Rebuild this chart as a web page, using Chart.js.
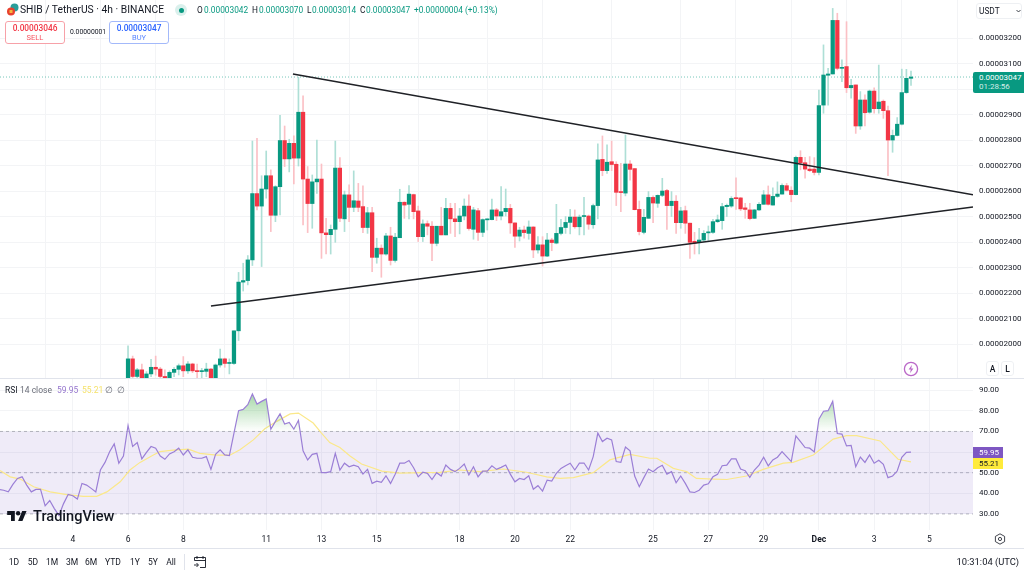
<!DOCTYPE html>
<html>
<head>
<meta charset="utf-8">
<title>SHIB / TetherUS</title>
<script src="https://cdn.jsdelivr.net/npm/chart.js"></script>
<style>
  html, body { margin: 0; padding: 0; background: #fff; }
  body { width: 1024px; height: 572px; position: relative; overflow: hidden; font-family: Roboto, sans-serif; color: #131722; }
  canvas { position: absolute; left: 0; }
  .t { position: absolute; white-space: nowrap; line-height: 1; transform: translateY(-50%); }
  .teal { color: #089981; }
  .box { position: absolute; box-sizing: border-box; }
</style>
</head>
<body>
<canvas id="priceChart" width="1024" height="378" style="top:0"></canvas>
<canvas id="rsiChart" width="1024" height="169" style="top:379px"></canvas>

<!-- pane separators -->
<div class="box" style="left:0;top:378px;width:1024px;height:1px;background:#e0e3eb"></div>
<div class="box" style="left:0;top:548px;width:1024px;height:1px;background:#e0e3eb"></div>

<!-- header -->
<svg class="box" style="left:6px;top:3px" width="13" height="13" viewBox="0 0 13 13">
  <circle cx="8.5" cy="4.5" r="4" fill="#2a9d9a"/>
  <circle cx="5" cy="8.5" r="4" fill="#e8412f"/>
  <rect x="3.5" y="7" width="3" height="3" fill="#f6b73c"/>
</svg>
<span class="t" style="left:20px;top:10px;font-size:10.3px">SHIB / TetherUS · 4h · BINANCE</span>
<div class="box" style="left:175px;top:4px;width:12px;height:12px;border-radius:50%;background:rgba(8,153,129,.15)"></div>
<div class="box" style="left:178.5px;top:7.5px;width:5px;height:5px;border-radius:50%;background:#089981"></div>
<span class="t" style="left:197px;top:10px;font-size:8.3px">O</span><span class="t teal" style="left:204px;top:10px;font-size:8.3px">0.00003042</span>
<span class="t" style="left:252px;top:10px;font-size:8.3px">H</span><span class="t teal" style="left:259px;top:10px;font-size:8.3px">0.00003070</span>
<span class="t" style="left:307px;top:10px;font-size:8.3px">L</span><span class="t teal" style="left:312px;top:10px;font-size:8.3px">0.00003014</span>
<span class="t" style="left:360px;top:10px;font-size:8.3px">C</span><span class="t teal" style="left:366px;top:10px;font-size:8.3px">0.00003047</span>
<span class="t teal" style="left:414px;top:10px;font-size:8.3px">+0.00000004 (+0.13%)</span>

<!-- sell / buy -->
<div class="box" style="left:5px;top:21px;width:60px;height:23px;border:1px solid #f7a1a8;border-radius:3px;background:#fff"></div>
<span class="t" style="left:5px;width:60px;text-align:center;top:28px;font-size:8.3px;font-weight:500;color:#f23645">0.00003046</span>
<span class="t" style="left:5px;width:60px;text-align:center;top:38px;font-size:7.5px;color:#f7525f">SELL</span>
<span class="t" style="left:70px;top:32px;font-size:6.8px">0.00000001</span>
<div class="box" style="left:109px;top:21px;width:60px;height:23px;border:1px solid #a3b9fa;border-radius:3px;background:#fff"></div>
<span class="t" style="left:109px;width:60px;text-align:center;top:28px;font-size:8.3px;font-weight:500;color:#2962ff">0.00003047</span>
<span class="t" style="left:109px;width:60px;text-align:center;top:38px;font-size:7.5px;color:#5b87ff">BUY</span>

<!-- currency selector -->
<div class="box" style="left:976px;top:3px;width:46px;height:16px;border:1px solid #eef0f3;border-radius:3px;background:#fff"></div>
<span class="t" style="left:979px;top:11px;font-size:8.3px">USDT</span>
<svg class="box" style="left:1016px;top:9px" width="5" height="4" viewBox="0 0 5 4"><path d="M.5 1l2 2 2-2" fill="none" stroke="#131722" stroke-width=".8"/></svg>

<!-- last price tag -->
<div class="box" style="left:973px;top:71.5px;width:51px;height:21px;background:#089981;border-radius:2px 0 0 2px"></div>
<span class="t" style="left:979px;top:77.5px;font-size:8px;color:#fff">0.00003047</span>
<span class="t" style="left:979px;top:87px;font-size:8px;color:#d4eee9">01:28:56</span>

<!-- price pane buttons -->
<svg class="box" style="left:903px;top:361px" width="16" height="16" viewBox="0 0 16 16">
  <circle cx="8" cy="8" r="6.6" fill="#fff" stroke="#ba68c8" stroke-width="1.3"/>
  <path d="M9 3.8L5.6 8.6h2.2L7 12.2l3.4-4.8H8.2z" fill="#ba68c8"/>
</svg>
<div class="box" style="left:986px;top:361px;width:13px;height:15px;border:1px solid #eef0f3;border-radius:3px;background:#fff"></div>
<div class="box" style="left:1001px;top:361px;width:13px;height:15px;border:1px solid #eef0f3;border-radius:3px;background:#fff"></div>
<span class="t" style="left:986px;top:368.5px;width:13px;text-align:center;font-size:8.5px;font-weight:500">A</span>
<span class="t" style="left:1001px;top:368.5px;width:13px;text-align:center;font-size:8.5px;font-weight:500">L</span>

<!-- RSI legend -->
<span class="t" style="left:5px;top:390px;font-size:8.5px">RSI</span>
<span class="t" style="left:20px;top:390px;font-size:8.5px;color:#6a6d78">14 close</span>
<span class="t" style="left:57px;top:390px;font-size:8.5px;color:#9575cd">59.95</span>
<span class="t" style="left:82px;top:390px;font-size:8.5px;color:#f5e26b">55.21</span>
<span class="t" style="left:105px;top:390px;font-size:8.5px;color:#6a6d78">∅</span>
<span class="t" style="left:117px;top:390px;font-size:8.5px;color:#6a6d78">∅</span>

<!-- RSI last value tags -->
<div class="box" style="left:973px;top:447px;width:30px;height:11px;background:#7e57c2"></div>
<span class="t" style="left:979px;top:452.5px;font-size:8px;color:#fff">59.95</span>
<div class="box" style="left:973px;top:458px;width:30px;height:11px;background:#ffeb3b"></div>
<span class="t" style="left:979px;top:463.5px;font-size:8px">55.21</span>

<!-- TradingView mark -->
<svg class="box" style="left:7px;top:510px" width="20" height="12" viewBox="0 0 36 22">
  <path d="M14 20H7V9H0V2h14v18zM28 20h-8l7.5-18h8L28 20z" fill="#131722"/><circle cx="20" cy="6" r="4" fill="#131722"/>
</svg>
<span class="t" style="left:33px;top:516px;font-size:14.6px;font-weight:500">TradingView</span>

<!-- settings hexagon -->
<svg class="box" style="left:994px;top:533px" width="12" height="12" viewBox="0 0 12 12">
  <path d="M6 .8l4.6 2.6v5.2L6 11.2 1.4 8.6V3.4z" fill="none" stroke="#131722" stroke-width=".8"/><circle cx="6" cy="6" r="1.6" fill="none" stroke="#131722" stroke-width=".8"/>
</svg>

<!-- bottom toolbar -->
<span class="t" style="left:14px;top:562px;font-size:8.5px;transform:translate(-50%,-50%)">1D</span>
<span class="t" style="left:33px;top:562px;font-size:8.5px;transform:translate(-50%,-50%)">5D</span>
<span class="t" style="left:52px;top:562px;font-size:8.5px;transform:translate(-50%,-50%)">1M</span>
<span class="t" style="left:72px;top:562px;font-size:8.5px;transform:translate(-50%,-50%)">3M</span>
<span class="t" style="left:91px;top:562px;font-size:8.5px;transform:translate(-50%,-50%)">6M</span>
<span class="t" style="left:113px;top:562px;font-size:8.5px;transform:translate(-50%,-50%)">YTD</span>
<span class="t" style="left:135px;top:562px;font-size:8.5px;transform:translate(-50%,-50%)">1Y</span>
<span class="t" style="left:153px;top:562px;font-size:8.5px;transform:translate(-50%,-50%)">5Y</span>
<span class="t" style="left:171px;top:562px;font-size:8.5px;transform:translate(-50%,-50%)">All</span>
<div class="box" style="left:184px;top:554px;width:1px;height:16px;background:#e0e3eb"></div>
<svg class="box" style="left:193px;top:555px" width="14" height="14" viewBox="0 0 14 14">
  <path d="M1.5 5.5V2.5h11v10H7M1.5 5.5h11M4 1v3M10 1v3M1 10h4M3.5 8l2 2-2 2" fill="none" stroke="#131722" stroke-width=".9"/>
</svg>
<span class="t" style="right:5px;top:562px;font-size:9.4px">10:31:04 (UTC)</span>

<script>
// prices are in units of 0.00000001
// candle 0 is the 4h bar that opens the 6th, earlier ones sit below the price pane
const opens = [
  1850,1942,1873,1899,1866,1883,1909,1902,1873,1866,
  1889,1901,1915,1895,1922,1895,1892,1893,1902,1866,
  1918,1942,1924,1924,2052,2243,2249,2330,2590,2541,
  2608,2660,2505,2617,2798,2726,2787,2729,2909,2647,
  2551,2636,2647,2436,2429,2450,2690,2491,2585,2536,
  2561,2539,2457,2515,2340,2376,2353,2424,2328,2417,
  2556,2548,2586,2522,2421,2472,2462,2395,2462,2428,
  2532,2491,2480,2502,2541,2450,2523,2438,2487,2488,
  2526,2502,2519,2532,2475,2423,2447,2434,2459,2369,
  2389,2345,2408,2396,2434,2457,2477,2498,2460,2500,
  2502,2468,2543,2724,2680,2715,2705,2596,2592,2706,
  2688,2528,2438,2493,2575,2552,2583,2602,2543,2560,
  2476,2523,2474,2403,2399,2408,2436,2438,2480,2484,
  2539,2541,2574,2573,2534,2526,2493,2526,2548,2585,
  2545,2579,2588,2621,2603,2586,2732,2711,2686,2686,
  2673,2937,3054,3059,3269,3081,3088,3005,3016,2855,
  2957,2909,2992,2923,2952,2915,2800,2818,2862,2986,
  3042
];
const highs = [
  1993,1953,1905,1922,1892,1940,1953,1909,1899,1895,
  1908,1922,1951,1931,1925,1922,1905,1925,1905,1922,
  1980,1945,1942,2052,2281,2317,2347,2796,2807,2660,
  2757,2683,2621,2897,2855,2803,2816,3046,2973,2696,
  2663,2800,2706,2493,2467,2796,2731,2600,2624,2679,
  2630,2620,2536,2536,2415,2389,2434,2458,2434,2607,
  2558,2621,2588,2541,2487,2483,2480,2462,2536,2571,
  2552,2552,2532,2569,2585,2536,2532,2491,2491,2568,
  2532,2617,2608,2548,2475,2458,2463,2483,2460,2421,
  2421,2434,2415,2548,2489,2500,2528,2526,2506,2575,
  2506,2549,2785,2816,2781,2796,2715,2709,2820,2719,
  2688,2561,2528,2598,2581,2585,2650,2607,2598,2582,
  2536,2541,2474,2438,2454,2445,2463,2489,2506,2552,
  2549,2578,2652,2575,2552,2552,2528,2555,2602,2620,
  2613,2636,2628,2630,2617,2737,2758,2732,2735,2731,
  2996,3173,3081,3316,3297,3114,3264,3038,3016,2990,
  2977,2996,3005,3094,2957,2933,2839,2888,3078,3077,
  3070
];
const lows = [
  1830,1860,1860,1850,1860,1872,1878,1866,1860,1860,
  1872,1879,1872,1885,1888,1866,1866,1872,1860,1860,
  1909,1909,1883,1920,2014,2208,2232,2308,2526,2304,
  2572,2441,2480,2506,2696,2675,2628,2698,2467,2437,
  2454,2591,2336,2353,2353,2399,2480,2441,2480,2519,
  2519,2437,2434,2284,2317,2262,2349,2310,2321,2417,
  2493,2491,2491,2402,2402,2428,2327,2385,2428,2428,
  2434,2421,2432,2487,2447,2411,2406,2421,2447,2487,
  2484,2487,2502,2434,2379,2404,2415,2411,2339,2356,
  2306,2343,2366,2393,2428,2434,2432,2454,2428,2428,
  2450,2454,2491,2660,2669,2680,2543,2519,2581,2643,
  2526,2428,2432,2493,2476,2536,2578,2450,2500,2434,
  2454,2434,2336,2353,2353,2402,2406,2434,2476,2450,
  2500,2536,2528,2523,2493,2487,2492,2523,2548,2545,
  2545,2575,2588,2600,2558,2585,2683,2650,2676,2663,
  2663,2905,2937,3059,3075,3029,2986,2964,2826,2842,
  2855,2905,2905,2905,2885,2660,2752,2816,2859,2983,
  3014
];
const closes = [
  1942,1873,1899,1866,1883,1909,1902,1873,1866,1889,
  1901,1915,1895,1922,1895,1892,1893,1902,1866,1918,
  1942,1924,1927,2052,2243,2249,2330,2590,2541,2608,
  2660,2505,2617,2798,2726,2787,2729,2909,2647,2551,
  2636,2647,2436,2429,2450,2690,2493,2585,2536,2562,
  2536,2457,2515,2340,2376,2353,2424,2328,2419,2556,
  2545,2588,2519,2421,2471,2462,2395,2462,2428,2532,
  2491,2480,2502,2541,2453,2526,2438,2488,2489,2526,
  2502,2519,2532,2475,2423,2447,2437,2459,2369,2389,
  2345,2408,2398,2434,2457,2477,2498,2460,2498,2502,
  2470,2543,2722,2680,2713,2704,2595,2594,2706,2685,
  2527,2441,2497,2575,2553,2583,2600,2543,2560,2476,
  2522,2474,2399,2396,2408,2434,2440,2480,2487,2539,
  2544,2571,2570,2530,2528,2492,2526,2548,2585,2548,
  2579,2588,2622,2603,2586,2732,2711,2686,2680,2673,
  2935,3055,3059,3269,3081,3085,3005,3014,2855,2957,
  2907,2992,2923,2949,2915,2800,2818,2862,2986,3042,
  3047
];

// rsi starts further left than the candles
const rsiFirstBar = -28;
const rsiValues = [
  41.9,41.5,40.7,44.3,47.2,48.0,44.0,40.7,41.9,41.9,33.9,36.5,32.6,29.3,35.0,39.4,38.8,37.2,44.8,44.0,
  42.4,40.7,51.3,55.0,60.2,64.0,54.6,58.1,72.9,62.7,64.6,56.7,59.9,62.7,61.9,58.1,56.5,59.1,60.2,61.9,
  58.6,61.1,57.5,57.0,57.0,57.8,51.6,58.9,61.1,58.6,58.3,69.2,80.1,80.7,83.0,88.2,83.3,84.6,85.8,71.1,
  74.9,78.6,73.6,74.4,71.1,75.4,60.6,56.2,58.9,59.4,50.0,50.0,50.5,59.4,51.3,
  54.6,52.9,53.7,52.9,49.3,51.6,44.8,45.9,45.3,48.5,44.8,49.2,54.6,54.6,55.9,52.4,48.0,50.2,49.7,46.7,
  50.0,48.4,53.7,51.6,50.5,52.1,54.2,48.9,52.9,48.0,50.8,50.8,53.3,51.6,52.6,53.7,49.3,45.6,47.2,46.7,
  48.5,42.0,43.7,41.1,46.4,45.9,49.7,52.1,53.4,54.6,51.3,54.6,54.7,51.3,57.8,69.2,65.1,66.7,65.9,55.4,
  55.0,62.4,60.6,48.4,43.2,47.6,51.8,50.5,52.4,53.6,49.3,50.5,45.1,48.4,
  44.8,40.7,40.4,41.5,44.0,44.6,48.0,49.2,53.4,53.7,56.7,56.7,51.8,51.0,47.7,51.3,53.7,57.5,53.3,56.2,
  57.5,60.2,57.8,55.4,67.9,65.1,62.2,61.9,60.1,76.0,79.8,80.1,84.6,69.0,68.7,63.0,63.2,52.9,57.6,55.0,
  58.6,54.6,56.0,54.1,47.6,48.4,50.8,57.5,59.9,59.95
];
const maBars = [
  -27.8,-25.6,-23.4,-20.5,-16.9,-13.3,-9.7,-6.8,-4.6,-1.7,0.4,2.6,5.5,6.9,9.8,13.1,15.6,19.2,22.1,24.3,
  27.2,29.7,32.3,35.2,37,40.2,42,43.8,46,48.2,50.7,55.1,59,64.1,67.7,72.1,76.4,81.5,86.5,90.9,
  93.8,96.7,101,104.6,109,113.3,114.8,118.4,119.8,121.3,123.4,127.1,130,134.3,137.9,142.3,144.4,148.8,153.1,156,
  158.2,163.3,167.2,170
];
const maValues = [
  51,48,46.9,43.2,40.7,39.4,38.5,38.5,40.7,45.6,51.3,55,58.6,60.2,60.9,61.4,59.4,58.5,58.5,61.1,
  65.9,71.3,74.9,78.5,78.9,74.1,69.2,64.6,62.2,58.1,54.2,50.8,49.8,50,50.2,51.3,50.5,51.8,50.2,48,
  47.2,47.6,50,56.2,58.9,57,57,52.1,51.3,50.5,47.2,46.9,46.7,48.4,51.6,54.6,55,58.6,66.3,68,
  68,65.4,56.5,55.21
];

// trendlines: [bar, price]
const upperTrend = [[35.8, 3059], [183.46, 2585]];
const lowerTrend = [[18, 2149], [183.46, 2537]];
const lastPrice = 3047;

const priceTicks = [2000,2100,2200,2300,2400,2500,2600,2700,2800,2900,3000,3100,3200];
const rsiTicks = [30,40,50,60,70,80,90];
const dayBars = [-12,0,12,30,42,54,72,84,96,114,126,138,150,162,174];
const dayLabels = ['4','6','8','11','13','15','18','20','22','25','27','29','Dec','3','5'];

const UP = '#089981';
const DOWN = '#f23645';
const UP_WICK = '#aedfd6';
const DOWN_WICK = '#fbc0c5';
const GRID = '#f3f4f6';
const FONT = 'Roboto';
const BAR_MIN = -27.8;
const BAR_MAX = 183.46;
const AXIS_WIDTH = 51;

function isUp(i) {
    return closes[i] >= opens[i];
}

function fixedTicks(values) {
    return scale => { scale.ticks = values.map(value => ({ value })); };
}

const bars = opens.map((o, i) => i);
const wickData = bars.map(i => ({ x: i, y: [lows[i], highs[i]] }));
const bodyData = bars.map(i => ({ x: i, y: [opens[i], closes[i]] }));
const toPoints = line => line.map(p => ({ x: p[0], y: p[1] }));

Chart.defaults.animation = false;
Chart.defaults.font.family = FONT;
Chart.defaults.plugins.legend.display = false;
Chart.defaults.plugins.tooltip.enabled = false;

function xAxis(showLabels, height) {
    return {
        type: 'linear',
        min: BAR_MIN,
        max: BAR_MAX,
        offset: false,
        afterBuildTicks: fixedTicks(dayBars),
        afterFit: s => { s.height = height; s.paddingLeft = 0; s.paddingRight = 0; },
        grid: { color: GRID, drawTicks: false },
        border: { display: false },
        ticks: {
            display: showLabels,
            autoSkip: false,
            maxRotation: 0,
            padding: 5,
            color: '#131722',
            font: ctx => ({ size: 8.5, family: FONT, weight: dayLabels[ctx.index] === 'Dec' ? 'bold' : 'normal' }),
            callback: (value, index) => dayLabels[index]
        }
    };
}

function yAxis(min, max, tickValues, format) {
    return {
        position: 'right',
        min,
        max,
        afterBuildTicks: fixedTicks(tickValues),
        // label overhang would otherwise shrink the pane
        afterFit: s => { s.width = AXIS_WIDTH; s.paddingTop = 0; s.paddingBottom = 0; },
        grid: { color: GRID, drawTicks: false },
        border: { display: false },
        ticks: { padding: 6, color: '#131722', font: { size: 8, family: FONT }, callback: format }
    };
}

new Chart(document.getElementById('priceChart'), {
    type: 'bar',
    data: {
        datasets: [
            {
                type: 'line', data: toPoints(upperTrend), order: 0,
                borderColor: '#1f2126', borderWidth: 1.5, pointRadius: 0
            },
            {
                type: 'line', data: toPoints(lowerTrend), order: 0,
                borderColor: '#1f2126', borderWidth: 1.5, pointRadius: 0
            },
            {
                data: bodyData, order: 1, grouped: false, barThickness: 3.6, minBarLength: 1,
                backgroundColor: bars.map(i => isUp(i) ? UP : DOWN)
            },
            {
                data: wickData, order: 2, grouped: false, barThickness: 1,
                backgroundColor: bars.map(i => isUp(i) ? UP_WICK : DOWN_WICK)
            },
            {
                type: 'line', data: [{ x: BAR_MIN, y: lastPrice }, { x: BAR_MAX, y: lastPrice }], order: 3,
                borderColor: 'rgba(8,153,129,.55)', borderWidth: 1, borderDash: [1, 2], pointRadius: 0
            }
        ]
    },
    options: {
        responsive: false,
        layout: { padding: 0, autoPadding: false },
        scales: {
            x: xAxis(false, 0),
            y: yAxis(1867, 3349, priceTicks, v => (v / 1e8).toFixed(8))
        }
    }
});

const rsiCanvas = document.getElementById('rsiChart');
// fades from the RSI peak down to the 70 level
const overbought = rsiCanvas.getContext('2d').createLinearGradient(0, 11, 0, 52.5);
overbought.addColorStop(0, 'rgba(76,175,80,.55)');
overbought.addColorStop(1, 'rgba(76,175,80,0)');

const levelLine = y => [{ x: BAR_MIN, y }, { x: BAR_MAX, y }];
const levelStyle = { borderColor: 'rgba(120,123,134,.5)', borderWidth: 1, borderDash: [3, 3], pointRadius: 0 };

new Chart(rsiCanvas, {
    type: 'line',
    data: {
        datasets: [
            {
                data: rsiValues.map((y, i) => ({ x: rsiFirstBar + i, y })),
                borderColor: '#9b7fd6', borderWidth: 1.2, pointRadius: 0, order: 0,
                fill: { target: { value: 70 }, above: overbought, below: 'rgba(0,0,0,0)' }
            },
            {
                data: maBars.map((x, i) => ({ x, y: maValues[i] })),
                borderColor: '#fbe88a', borderWidth: 1.2, pointRadius: 0, order: 1
            },
            { data: levelLine(70), ...levelStyle, order: 2, fill: '+1', backgroundColor: 'rgba(126,87,194,.12)' },
            { data: levelLine(30), ...levelStyle, order: 3 },
            { data: levelLine(50), ...levelStyle, order: 4 }
        ]
    },
    options: {
        responsive: false,
        layout: { padding: 0, autoPadding: false },
        scales: {
            x: xAxis(true, 18),
            y: yAxis(22.2, 95.45, rsiTicks, v => v.toFixed(2))
        }
    }
});
</script>
</body>
</html>
